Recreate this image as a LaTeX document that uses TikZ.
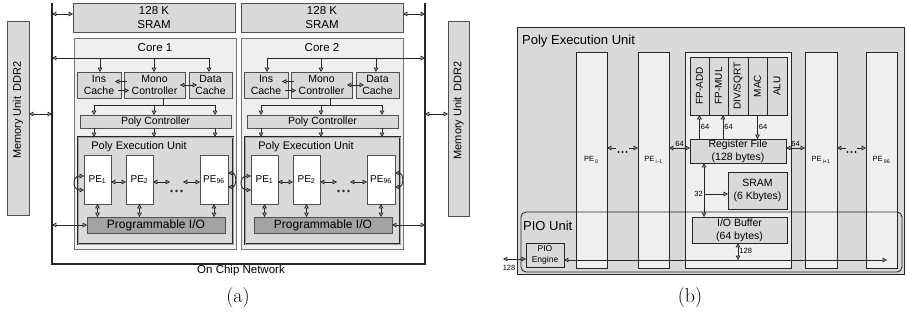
\documentclass[tikz,border=0pt]{standalone}
\usepackage{fontspec}
\newfontfamily\arial{Liberation Sans}
\usetikzlibrary{arrows.meta}
\definecolor{gA}{HTML}{D9D9D9}
\definecolor{gB}{HTML}{EFEFEF}
\definecolor{gC}{HTML}{A3A3A3}
\definecolor{ln}{HTML}{262626}
\definecolor{bd}{HTML}{505050}
\newcommand\fs[2]{\arial\fontsize{#1}{#2}\selectfont}
\newcommand\mybox[7]{\node[#2, minimum width={#5pt-#3pt}, minimum height={#6pt-#4pt}] (#1) at ({(#3+#5)/2},{(#4+#6)/2}) {#7};}
\tikzset{
 wire/.style={draw=ln, line width=0.85pt},
 >={Triangle[open,length=4.4pt,width=4.6pt]},
 box/.style={draw=bd, line width=0.65pt, fill=gA, inner sep=0pt, outer sep=0pt, align=center, font=\fs{10.5}{12}},
 corebox/.style={box, fill=gB, draw=bd!80},
 peubox/.style={box, draw=ln, double=gray!70, double distance=0.9pt, line width=0.5pt},
 pebox/.style={box, fill=white, font=\fs{10}{12}},
 piobox/.style={box, fill=gC, font=\fs{12}{14}},
 colbox/.style={box, fill=gB, draw=ln, font=\fs{7.5}{9}},
 fubox/.style={box, draw=ln, font=\fs{10}{12}},
 bbox/.style={box, draw=ln, font=\fs{10.5}{13}},
 txt/.style={inner sep=0pt, font=\fs{10.5}{12}},
 num/.style={inner sep=1pt, font=\fs{7.5}{9}},
}
\newcommand\corebody[1]{%
\mybox{core}{corebox}{74}{38}{236}{249}{}%
\node[txt, font=\fs{11.5}{13}] (title) at (155,48) {#1};%
\mybox{ins}{box}{77}{72}{121}{98}{Ins\\Cache}%
\mybox{mono}{box}{124}{72}{185}{98}{Mono\\Controller}%
\mybox{data}{box}{189}{72}{232}{98}{Data\\Cache}%
\coordinate (tl) at (100,58); \coordinate (tm) at (154,58); \coordinate (tr) at (209,58);%
\draw[wire] (tl) -- (tr);%
\draw[wire,->] (tl) -- (tl |- ins.north);%
\draw[wire,->] (tm) -- (tm |- mono.north);%
\draw[wire,->] (tr) -- (tr |- data.north);%
\draw[wire,->] ([xshift=3pt,yshift=3.5pt]mono.west) -- ([xshift=-6pt,yshift=3.5pt]ins.east);%
\draw[wire,->] ([xshift=-3pt,yshift=-5.5pt]ins.east) -- ([xshift=5pt,yshift=-5.5pt]mono.west);%
\draw[wire,<->] ([xshift=-5pt]mono.east) -- ([xshift=8pt]data.west);%
\mybox{pc}{box}{80}{115}{231}{128}{Poly Controller}%
\coordinate (ms) at (163,105); \coordinate (pl) at (94,105); \coordinate (pm) at (154,105); \coordinate (pr) at (215,105);%
\draw[wire] (ms |- mono.south) -- (ms);%
\draw[wire] (pl) -- (pr);%
\foreach \q in {pl,pm,pr} {\draw[wire,->] (\q) -- (\q |- pc.north);}%
\mybox{peu}{peubox}{78}{137}{233}{244}{}%
\node[txt, font=\fs{11}{13}] (peut) at (139,147) {Poly Execution Unit};%
\foreach \q in {pl,pm,pr} {\draw[wire,->] (\q |- pc.south) -- (\q |- peu.north);}%
\mybox{pe1}{pebox}{84}{155}{111}{204}{PE\textsubscript{1}}%
\mybox{pe2}{pebox}{126}{155}{153}{204}{PE\textsubscript{2}}%
\mybox{pe96}{pebox}{200}{155}{228}{204}{PE\textsubscript{96}}%
\draw[wire,<->] ([yshift=-2.5pt]pe1.east) -- ([yshift=-2.5pt]pe2.west);%
\coordinate (dl) at (170,182); \coordinate (dr) at (183,182); \coordinate (dots) at (176.5,191);%
\draw[wire,<->] ([yshift=-2.5pt]pe2.east) -- (dl);%
\draw[wire,<->] (dr) -- ([yshift=-2.5pt]pe96.west);%
\foreach \dx in {-5,0,5} {\fill[ln] ([xshift=\dx pt]dots) circle (1.3pt);}%
\draw[wire,<->] ([yshift=3.5pt]pe1.west) .. controls +(-12,0) and +(-12,0) .. ([yshift=-10.5pt]pe1.west);%
\draw[wire,<->] ([yshift=6.5pt]pe96.east) .. controls +(9,0) and +(9,0) .. ([yshift=-7.5pt]pe96.east);%
\mybox{pio}{piobox}{87}{217}{225}{233}{Programmable I/O}%
\foreach \q in {pe1,pe2,pe96} {\draw[wire,<->] (\q.south) -- (\q.south |- pio.north);}%
}
\begin{document}
\begin{tikzpicture}[x=1pt,y=-1pt]
\useasboundingbox (0,0) rectangle (907,321);
% ---------------- (a)
\coordinate (bLt) at (52,3); \coordinate (bLb) at (52,264);
\coordinate (bRb) at (425,264); \coordinate (bRt) at (425,3);
\draw[wire, line width=1.1pt] (bLt) -- (bLb) -- (bRb) -- (bRt);
\node[txt, font=\fs{11.5}{13}] (ocn) at (241,271) {On Chip Network};
\mybox{mem1}{box}{7}{21}{29}{215}{\rotatebox{90}{\fs{11}{13}\hspace*{16pt}Memory Unit\hspace{0.5em}DDR2}}
\mybox{mem2}{box}{448}{21}{469}{216}{\rotatebox{90}{\fs{11}{13}\hspace*{16pt}Memory Unit\hspace{0.5em}DDR2}}
\coordinate (bm1) at (52,114); \coordinate (bm2) at (425,114);
\draw[wire,<->] (mem1.east |- bm1) -- (bm1);
\draw[wire,<->] (bm2) -- (mem2.west |- bm2);
\mybox{sr1}{box, font=\fs{11.5}{14}}{73}{3}{235}{32}{128 K\\SRAM}
\mybox{sr2}{box, font=\fs{11.5}{14}}{241}{3}{403}{32}{128 K\\SRAM}
\coordinate (bs1) at (52,14); \coordinate (bs2) at (425,14);
\draw[wire,<->] (bs1) -- (bs1 -| sr1.west);
\draw[wire,<->] (bs2 -| sr2.east) -- (bs2);
\begin{scope}[name prefix=c1-]
\corebody{Core 1}
\end{scope}
\begin{scope}[xshift=167pt, name prefix=c2-]
\corebody{Core 2}
\end{scope}
\draw[wire,->] (c1-tl) -- (c1-tl -| bLt);
\draw[wire,->] (c2-tr) -- (c2-tr -| bRt);
\draw[wire,<->] (bLb |- c1-pio.west) -- (c1-pio.west);
\draw[wire,<->] (c2-pio.east) -- (c2-pio.east -| bRt);
\node[font=\fontsize{20}{24}\selectfont] (capa) at (238,298) {(a)};
% ---------------- (b)
\mybox{peub}{box, draw=ln}{517}{27}{904}{274}{}
\node[txt, anchor=west, font=\fs{13}{15}] (peubt) at (522,41) {Poly Execution Unit};
\mybox{pe0}{colbox}{576}{52}{607}{268}{PE\,\textsubscript{0}}
\mybox{pei1}{colbox}{638}{52}{669}{268}{PE\,\textsubscript{i\,-1}}
\mybox{pei}{colbox}{685}{52}{791}{268}{}
\mybox{peip}{colbox}{805}{52}{837}{268}{PE\,\textsubscript{i+1}}
\mybox{pe96b}{colbox}{866}{52}{897}{268}{PE\,\textsubscript{96}}
\mybox{fadd}{fubox}{690}{57}{709}{115}{\rotatebox{90}{FP-ADD}}
\mybox{fmul}{fubox}{709}{57}{728}{115}{\rotatebox{90}{FP-MUL}}
\mybox{fdiv}{fubox}{728}{57}{748}{115}{\rotatebox{90}{DIV/SQRT}}
\mybox{fmac}{fubox}{748}{57}{767}{115}{\rotatebox{90}{MAC}}
\mybox{falu}{fubox}{767}{57}{787}{115}{\rotatebox{90}{ALU}}
\mybox{regf}{bbox}{690}{139}{786}{163}{Register File\\(128 bytes)}
\draw[wire,->] (regf.north -| fadd) -- (fadd.south) node[num, midway, right] {64};
\draw[wire,->] ([xshift=4.5pt]fmul.south |- regf.north) -- ([xshift=4.5pt]fmul.south) node[num, midway, right] {64};
\draw[wire,->] (fmac.south) -- (fmac.south |- regf.north) node[num, midway, right] {64};
\draw[wire,<->] ([yshift=3pt]regf.west -| pei1.east) -- ([yshift=3pt]regf.west) node[num, midway, above] {64};
\draw[wire,<->] ([yshift=3pt]regf.east) -- ([yshift=3pt]regf.east -| peip.west) node[num, midway, above] {64};
\coordinate (da1) at (616,148); \coordinate (da2) at (629,148);
\coordinate (db1) at (846,148); \coordinate (db2) at (857,148);
\draw[wire,->] (da1) -- (da1 -| pe0.east);
\draw[wire,->] (da2) -- (da2 -| pei1.west);
\draw[wire,->] (db1) -- (db1 -| peip.east);
\draw[wire,->] (db2) -- (db2 -| pe96b.west);
\foreach \dx in {618.5,622.5,626.5,847.5,851.5,855.5} {\fill[ln] (\dx,152) circle (1.2pt);}
\mybox{srb}{bbox}{728}{172}{787}{209}{SRAM\\(6 Kbytes)}
\mybox{iob}{bbox}{692}{217}{787}{243}{I/O Buffer\\(64 bytes)}
\coordinate (vx) at (704,194);
\draw[wire,<->] (vx |- regf.south) -- (vx |- iob.north);
\draw[wire,->] (vx) -- (vx -| srb.west);
\node[num, left] (l32) at (vx) {32};
\mybox{piou}{draw=ln, line width=0.85pt, rounded corners=5pt, inner sep=0pt, outer sep=0pt}{521}{212}{902}{272}{}
\node[txt, anchor=west, font=\fs{13}{15}] (piot) at (523,226) {PIO Unit};
\mybox{pioe}{box, draw=ln, font=\fs{8.5}{10.5}}{526}{243}{564}{267}{PIO\\Engine}
\coordinate (hr) at (887,260); \coordinate (hb) at (738,260);
\draw[wire,<->] (hr -| pioe.east) -- (hr);
\draw[wire,<->] (hb |- iob.south) -- (hb) node[num, pos=0.45, right] {128};
\coordinate (ext) at (503,259);
\draw[wire,<->] (ext) -- (ext -| pioe.west);
\node[num] (l128) at (509,268) {128};
\node[font=\fontsize{20}{24}\selectfont] (capb) at (690,298) {(b)};
\end{tikzpicture}
\end{document}
